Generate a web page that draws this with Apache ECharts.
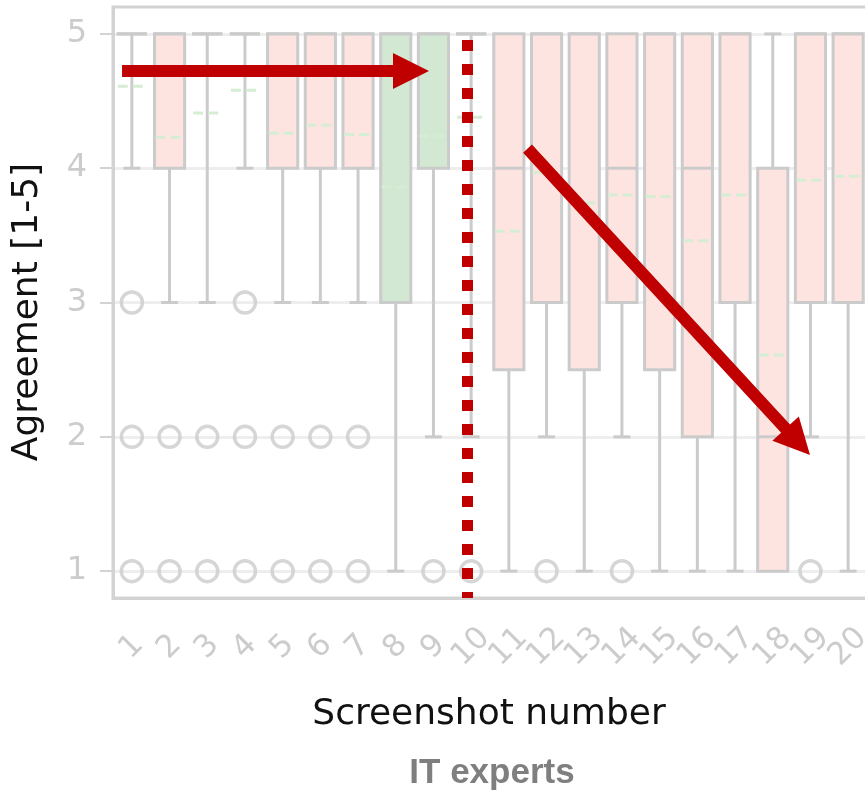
<!DOCTYPE html>
<html>
<head>
<meta charset="utf-8">
<script src="https://cdn.jsdelivr.net/npm/echarts@6/dist/echarts.min.js"></script>
<style>
html,body{margin:0;padding:0;background:#ffffff;}
#chart{width:865px;height:799px;}
</style>
</head>
<body>
<div id="chart"></div>
<script>
// ---- data ----
const categories   = ['1','2','3','4','5','6','7','8','9','10','11','12','13','14','15','16','17','18','19','20'];
const whiskerLow   = [4, 3, 3, 4, 3, 3, 3, 1, 2, 2, 1, 2, 1, 2, 1, 1, 1, 1, 2, 1];
const quartile1    = [5, 4, 5, 5, 4, 4, 4, 3, 4, 5, 2.5, 3, 2.5, 3, 2.5, 2, 3, 1, 3, 3];
const medians      = [5, 5, 5, 5, 5, 5, 5, 5, 5, 5, 4, 5, 5, 4, 5, 4, 5, 2, 5, 5];
const quartile3    = [5, 5, 5, 5, 5, 5, 5, 5, 5, 5, 5, 5, 5, 5, 5, 5, 5, 4, 5, 5];
const whiskerHigh  = [5, 5, 5, 5, 5, 5, 5, 5, 5, 5, 5, 5, 5, 5, 5, 5, 5, 5, 5, 5];
const means        = [4.61, 4.23, 4.41, 4.58, 4.26, 4.32, 4.25, 3.86, 4.24, 4.38, 3.53, 3.97, 3.74, 3.80, 3.79, 3.46, 3.80, 2.61, 3.91, 3.94];
const outliers     = [[3,2,1],[2,1],[2,1],[3,2,1],[2,1],[2,1],[2,1],[],[1],[1],[],[1],[],[1],[],[],[],[],[1],[]];
const groups       = ['red','red','red','red','red','red','red','green','green','red','red','red','red','red','red','red','red','red','red','red'];
const yTicks       = [1, 2, 3, 4, 5];

// annotation anchors (in axis coordinates: category index, agreement value)
const arrowStart   = [[-0.26, 4.723], [10.495, 4.146]];
const arrowTip     = [[7.882, 4.723], [17.988, 1.864]];
const dividerLine  = [[8.903, 4.954], [8.903, 0.8]];

const fills = { red: '#fde4e0', green: '#d3e8d2' };
const grey = '#cbcbcb';

const boxData = categories.map((c, i) => [i, whiskerLow[i], quartile1[i], medians[i], quartile3[i], whiskerHigh[i], means[i]]);
const outlierData = [];
outliers.forEach((arr, i) => arr.forEach(v => outlierData.push([i, v])));

function renderBox(params, api) {
  const i = api.value(0);
  const lo = api.value(1), b1 = api.value(2), md = api.value(3), b3 = api.value(4), hi = api.value(5), mn = api.value(6);
  const band = api.size([1, 0])[0];
  const bw = band * 0.8, cw = band * 0.45;
  const x = api.coord([i, b3])[0];
  const y = v => api.coord([i, v])[1];
  const st = { stroke: grey, lineWidth: 3, fill: null };
  const ch = [];
  if (lo < b1) {
    ch.push({ type: 'line', shape: { x1: x, y1: y(b1), x2: x, y2: y(lo) }, style: st });
    ch.push({ type: 'line', shape: { x1: x - cw / 2, y1: y(lo), x2: x + cw / 2, y2: y(lo) }, style: st });
  }
  if (hi > b3) {
    ch.push({ type: 'line', shape: { x1: x, y1: y(b3), x2: x, y2: y(hi) }, style: st });
    ch.push({ type: 'line', shape: { x1: x - cw / 2, y1: y(hi), x2: x + cw / 2, y2: y(hi) }, style: st });
  }
  if (b3 > b1) {
    ch.push({ type: 'rect', shape: { x: x - bw / 2, y: y(b3), width: bw, height: y(b1) - y(b3) },
      style: { fill: fills[groups[params.dataIndex]], stroke: grey, lineWidth: 3 } });
  } else {
    ch.push({ type: 'line', shape: { x1: x - bw / 2, y1: y(b3), x2: x + bw / 2, y2: y(b3) }, style: st });
  }
  ch.push({ type: 'line', shape: { x1: x - bw / 2, y1: y(md), x2: x + bw / 2, y2: y(md) }, style: st });
  ch.push({ type: 'line', shape: { x1: x - bw / 2 + 1, y1: y(mn), x2: x + bw / 2 - 1, y2: y(mn) },
    style: { stroke: '#d5edd3', lineWidth: 3, lineDash: [10, 5], fill: null } });
  return { type: 'group', children: ch };
}

function renderAnno(params, api) {
  const red = '#c00000';
  const ch = [];
  for (let k = 0; k < arrowStart.length; k++) {
    const p0 = api.coord(arrowStart[k]);
    const p1 = api.coord(arrowTip[k]);
    const dx = p1[0] - p0[0], dy = p1[1] - p0[1];
    const len = Math.sqrt(dx * dx + dy * dy);
    const ux = dx / len, uy = dy / len;
    const nx = -uy, ny = ux;
    const head = 36, hw = 18, sw = 6;
    const bx = p1[0] - ux * head, by = p1[1] - uy * head;
    ch.push({ type: 'polygon', shape: { points: [
      [p0[0] + nx * sw, p0[1] + ny * sw], [bx + nx * sw, by + ny * sw], [bx + nx * hw, by + ny * hw],
      [p1[0], p1[1]],
      [bx - nx * hw, by - ny * hw], [bx - nx * sw, by - ny * sw], [p0[0] - nx * sw, p0[1] - ny * sw]
    ] }, style: { fill: red } });
  }
  const d0 = api.coord(dividerLine[0]), d1 = api.coord(dividerLine[1]);
  ch.push({ type: 'line', shape: { x1: d0[0], y1: d0[1], x2: d1[0], y2: d1[1] },
    style: { stroke: red, lineWidth: 11, lineDash: [11, 13], lineCap: 'butt', fill: null } });
  return { type: 'group', children: ch };
}

const chart = echarts.init(document.getElementById('chart'), null, { renderer: 'canvas' });
chart.setOption({
  animation: false,
  backgroundColor: '#ffffff',
  grid: { left: 113, top: 7, width: 754, height: 591, containLabel: false, outerBoundsMode: 'none',
    show: true, borderColor: '#d3d3d3', borderWidth: 3, backgroundColor: 'transparent' },
  xAxis: [{
    type: 'category',
    data: categories,
    boundaryGap: true,
    axisLine: { onZero: false, lineStyle: { color: '#d3d3d3', width: 3 } },
    axisTick: { alignWithLabel: true, length: 12, lineStyle: { color: '#d3d3d3', width: 2 } },
    axisLabel: { interval: 0, rotate: 45, align: 'center', verticalAlign: 'middle', margin: 49,
      color: '#cccccc', fontSize: 31, fontFamily: 'DejaVu Sans' },
    splitLine: { show: false }
  }, {
    type: 'value', min: -0.5, max: 19.5, show: false
  }],
  yAxis: {
    type: 'value', min: 0.8, max: 5.2,
    axisLine: { show: true, onZero: false, lineStyle: { color: '#d3d3d3', width: 3 } },
    axisTick: { show: true, customValues: yTicks, length: 13, lineStyle: { color: '#d3d3d3', width: 2 } },
    axisLabel: { customValues: yTicks, margin: 26, color: '#cccccc', fontSize: 32, fontFamily: 'DejaVu Sans' },
    splitLine: { show: true, lineStyle: { color: '#eeeeee', width: 3 } }
  },
  series: [{
    type: 'custom',
    xAxisIndex: 0, yAxisIndex: 0,
    data: boxData,
    encode: { x: 0, y: [1, 2, 3, 4, 5, 6] },
    renderItem: renderBox,
    z: 2
  }, {
    type: 'scatter',
    xAxisIndex: 0, yAxisIndex: 0,
    data: outlierData,
    symbol: 'circle',
    symbolSize: 21,
    itemStyle: { color: 'rgba(0,0,0,0)', borderColor: '#cccccc', borderWidth: 3.5 },
    z: 3
  }, {
    type: 'custom',
    xAxisIndex: 1, yAxisIndex: 0,
    data: [[0, 3]],
    encode: { x: 0, y: 1 },
    renderItem: renderAnno,
    clip: false,
    silent: true,
    z: 10
  }],
  graphic: [
    { type: 'text', x: 28, y: 312, rotation: Math.PI / 2,
      style: { text: 'Agreement [1-5]', font: '36px "DejaVu Sans"', fill: '#111111', align: 'center', verticalAlign: 'middle', textAlign: 'center', textVerticalAlign: 'middle' } },
    { type: 'text', x: 489, y: 715,
      style: { text: 'Screenshot number', font: '36px "DejaVu Sans"', fill: '#111111', align: 'center', verticalAlign: 'middle', textAlign: 'center', textVerticalAlign: 'middle' } },
    { type: 'text', x: 492, y: 773,
      style: { text: 'IT experts', font: 'bold 35px "Liberation Sans"', fill: '#7f7f7f', align: 'center', verticalAlign: 'middle', textAlign: 'center', textVerticalAlign: 'middle' } }
  ]
});
</script>
</body>
</html>
